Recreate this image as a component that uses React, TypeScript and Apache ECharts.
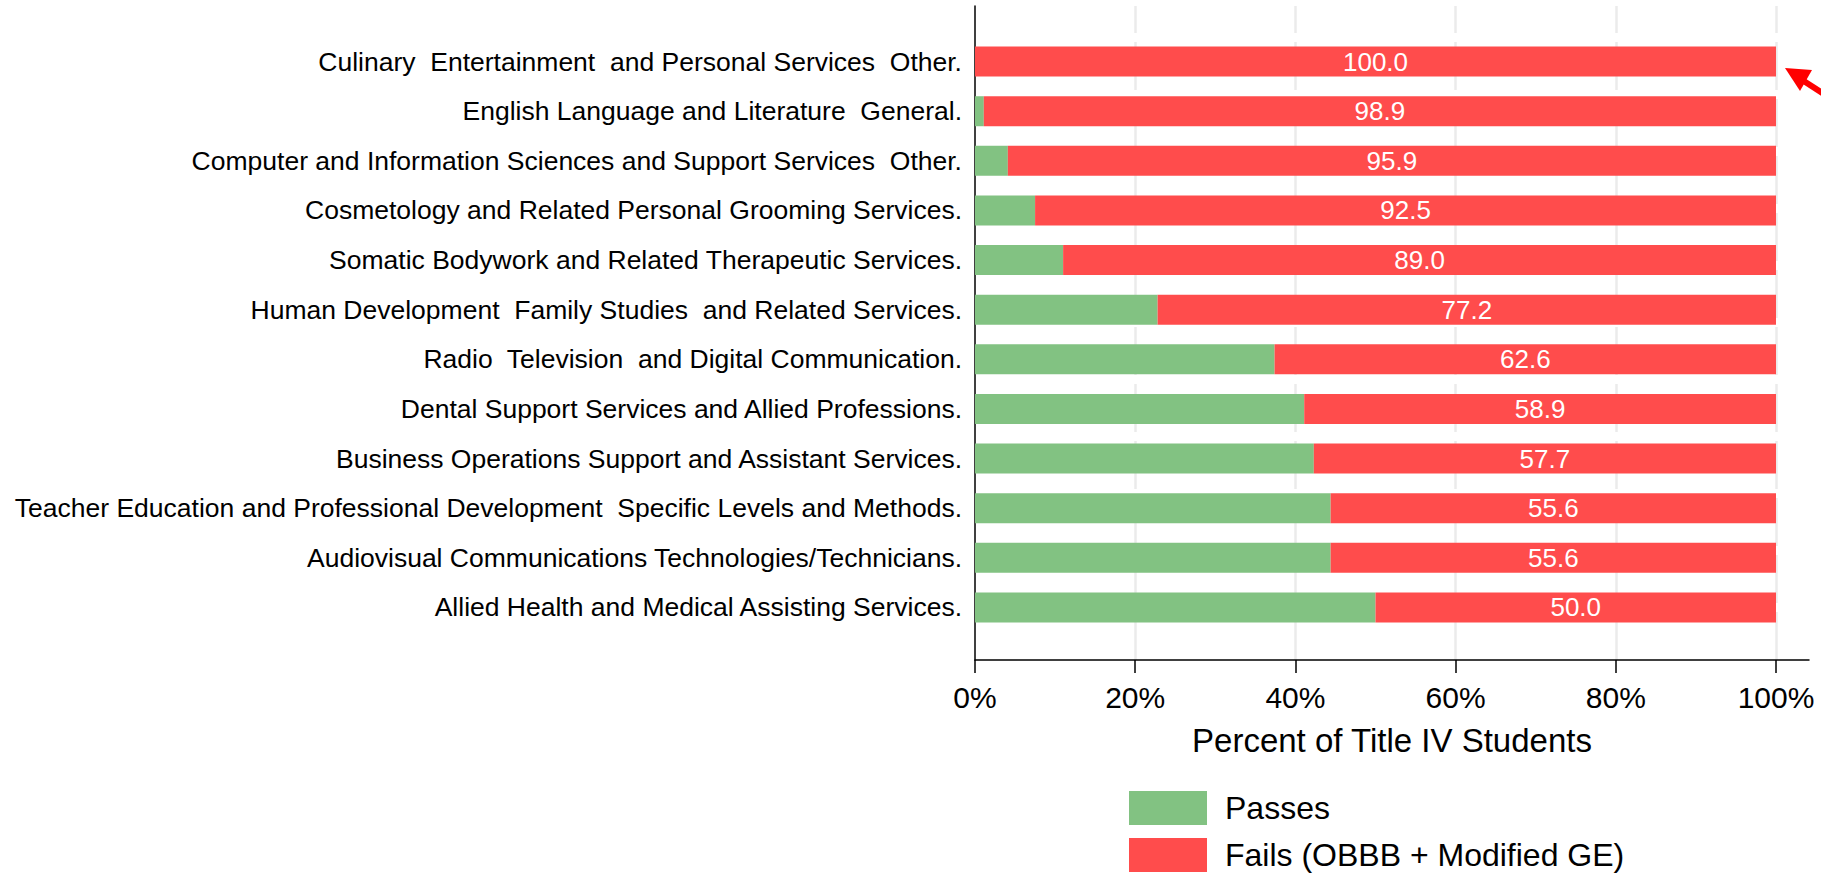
import React, { useEffect, useRef } from "react";
import * as echarts from "echarts";

const categories = [
  "Culinary  Entertainment  and Personal Services  Other.",
  "English Language and Literature  General.",
  "Computer and Information Sciences and Support Services  Other.",
  "Cosmetology and Related Personal Grooming Services.",
  "Somatic Bodywork and Related Therapeutic Services.",
  "Human Development  Family Studies  and Related Services.",
  "Radio  Television  and Digital Communication.",
  "Dental Support Services and Allied Professions.",
  "Business Operations Support and Assistant Services.",
  "Teacher Education and Professional Development  Specific Levels and Methods.",
  "Audiovisual Communications Technologies/Technicians.",
  "Allied Health and Medical Assisting Services.",
];

const passes = [0.0, 1.1, 4.1, 7.5, 11.0, 22.8, 37.4, 41.1, 42.3, 44.4, 44.4, 50.0];
const fails = [100.0, 98.9, 95.9, 92.5, 89.0, 77.2, 62.6, 58.9, 57.7, 55.6, 55.6, 50.0];

const xTicks = [0, 20, 40, 60, 80, 100];
const gridValues = [20, 40, 60, 80, 100];

const seriesNames = ["Passes", "Fails (OBBB + Modified GE)"];
const GREEN = "#82c282";
const RED = "#ff4c4c";
const FONT = "'Liberation Sans', Arial, Helvetica, sans-serif";

export default function App() {
  const ref = useRef<HTMLDivElement>(null);

  useEffect(() => {
    if (!ref.current) return;
    const chart = echarts.init(ref.current, null, { renderer: "svg" });
    const xMax = 104.12;
    chart.setOption({
      animation: false,
      backgroundColor: "#ffffff",
      textStyle: { fontFamily: FONT },
      grid: [
        { left: 975, top: 6, width: 834, height: 654 },
        { left: 975, top: 36.8, width: 834, height: 595.4 },
      ],
      xAxis: [
        {
          type: "value",
          gridIndex: 0,
          min: 0,
          max: xMax,
          position: "bottom",
          axisLine: { show: true, onZero: false, lineStyle: { color: "#000", width: 1.5 } },
          axisTick: {
            show: true,
            customValues: xTicks,
            length: 13,
            lineStyle: { color: "#000", width: 1.5 },
          },
          axisLabel: {
            show: true,
            customValues: xTicks,
            formatter: (v: number) => `${v}%`,
            fontSize: 30,
            color: "#000",
            margin: 22,
            fontFamily: FONT,
          },
          splitLine: { show: false },
          name: "Percent of Title IV Students",
          nameLocation: "middle",
          nameGap: 64,
          nameTextStyle: { fontSize: 33, color: "#000", fontFamily: FONT },
        },
        {
          type: "value",
          gridIndex: 1,
          min: 0,
          max: xMax,
          show: false,
        },
      ],
      yAxis: [
        {
          type: "value",
          gridIndex: 0,
          min: 0,
          max: 1,
          axisLine: { show: true, onZero: false, lineStyle: { color: "#000", width: 1.5 } },
          axisTick: { show: false },
          axisLabel: { show: false },
          splitLine: { show: false },
        },
        {
          type: "category",
          gridIndex: 1,
          inverse: true,
          data: categories,
          axisLine: { show: false },
          axisTick: { show: false },
          axisLabel: {
            fontSize: 26.5,
            color: "#000",
            margin: 13,
            fontFamily: FONT,
          },
          splitLine: { show: false },
        },
      ],
      legend: {
        orient: "vertical",
        left: 1129,
        top: 791,
        height: 120,
        padding: 0,
        itemWidth: 78,
        itemHeight: 34,
        itemGap: 13,
        icon: "rect",
        data: seriesNames,
        textStyle: {
          fontSize: 32,
          lineHeight: 32,
          color: "#000",
          fontFamily: FONT,
          padding: [0, 0, 0, 13],
        },
      },
      series: [
        {
          type: "line",
          xAxisIndex: 0,
          yAxisIndex: 0,
          data: [[0, 0]],
          showSymbol: false,
          symbolSize: 0,
          lineStyle: { width: 0 },
          silent: true,
          z: 0,
          markLine: {
            silent: true,
            z: 0,
            symbol: ["none", "none"],
            label: { show: false },
            lineStyle: { color: "#ebebeb", width: 2.5, type: [48, 9] },
            data: gridValues.map((v) => ({ xAxis: v })),
          },
        },
        {
          name: seriesNames[0],
          type: "bar",
          xAxisIndex: 1,
          yAxisIndex: 1,
          stack: "total",
          barWidth: 30,
          data: passes,
          itemStyle: { color: GREEN },
          z: 3,
        },
        {
          name: seriesNames[1],
          type: "bar",
          xAxisIndex: 1,
          yAxisIndex: 1,
          stack: "total",
          barWidth: 30,
          data: fails,
          itemStyle: { color: RED },
          z: 3,
          label: {
            show: true,
            position: "inside",
            color: "#ffffff",
            fontSize: 26,
            fontFamily: FONT,
            formatter: (p: any) => Number(p.value).toFixed(1),
          },
        },
      ],
      graphic: [
        {
          type: "group",
          silent: true,
          children: [
            {
              type: "line",
              shape: { x1: 1796, y1: 76, x2: 1830, y2: 98 },
              style: { stroke: "#ff0000", lineWidth: 6 },
            },
            {
              type: "polygon",
              shape: { points: [[1785, 68], [1812, 70], [1800, 91]] },
              style: { fill: "#ff0000" },
            },
          ],
        },
      ],
    });
    return () => chart.dispose();
  }, []);

  return (
    <div
      ref={ref}
      style={{ position: "fixed", left: 0, top: 0, width: 1821, height: 874, background: "#fff" }}
    />
  );
}
